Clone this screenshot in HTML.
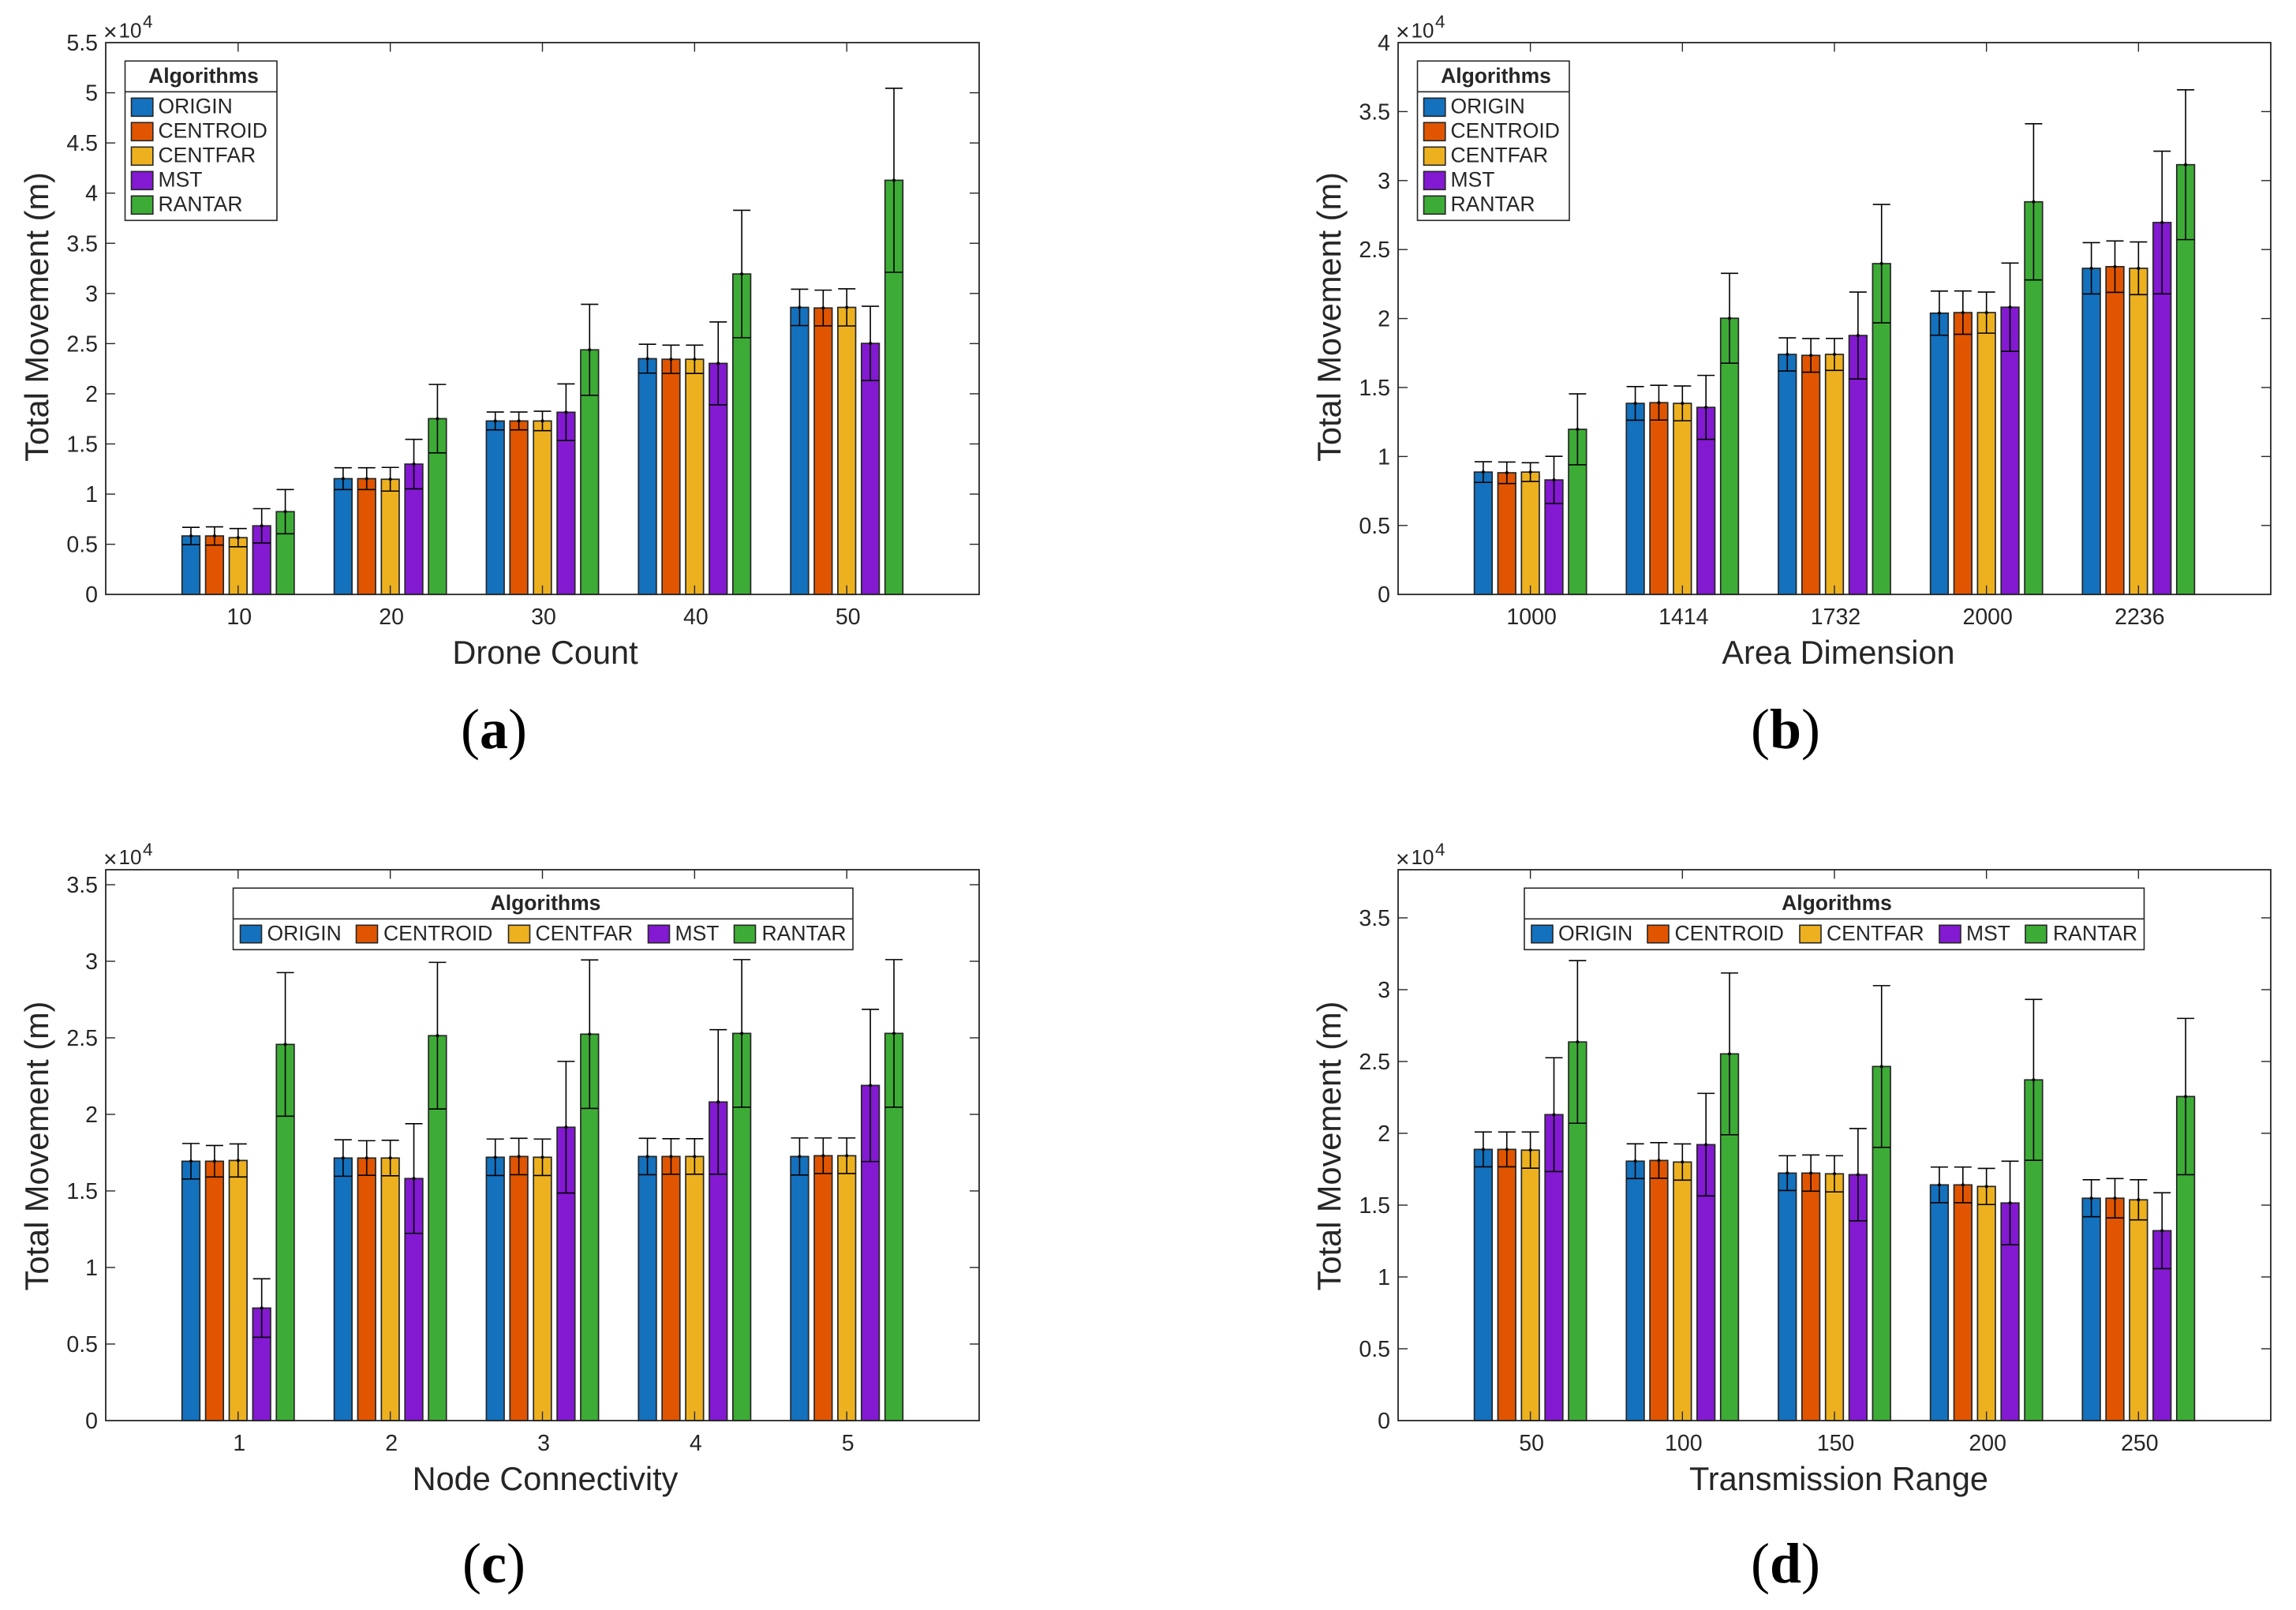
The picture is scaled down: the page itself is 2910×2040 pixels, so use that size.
<!DOCTYPE html>
<html lang="en">
<head>
<meta charset="utf-8">
<title>Total Movement charts</title>
<style>
html,body{margin:0;padding:0;background:#fff;}
svg{display:block;font-family:"Liberation Sans",sans-serif;}
.tick-label{font-size:28.5px;fill:#262626;}
.axis-title{font-size:41.5px;fill:#262626;}
.exp{fill:#262626;}
.leg-title{font-size:26.5px;font-weight:bold;fill:#262626;text-anchor:middle;}
.leg-text{font-size:26.5px;fill:#262626;}
.leg-box{fill:#fff;stroke:#262626;stroke-width:1.6;}
.leg-sep{stroke:#262626;stroke-width:1.6;}
.sw{stroke:#262626;stroke-width:1.6;}
.c0{fill:#1371BE;}.c1{fill:#E15500;}.c2{fill:#EDB120;}.c3{fill:#8319D1;}.c4{fill:#3DAC36;}
.sub{font-family:"Liberation Serif",serif;font-size:72px;fill:#000;text-anchor:middle;}
.sub .b{font-weight:bold;}
</style>
</head>
<body>
<svg xmlns="http://www.w3.org/2000/svg" width="2910" height="2040" viewBox="0 0 2910 2040">
  <rect width="2910" height="2040" fill="#fff"/>

  <!-- Panel A -->
  <g>
    <g id="marks-a"></g>
    <g><text class="exp" x="131" y="50.5" font-size="30">×</text><text class="exp" x="150.5" y="47.3" font-size="26">10</text><text class="exp" x="181" y="35" font-size="22.5">4</text></g>
    <text class="axis-title" x="691" y="841" text-anchor="middle">Drone Count</text>
    <text class="axis-title" transform="translate(61 401.5) rotate(-90)" text-anchor="middle">Total Movement (m)</text>
    <g transform="translate(158.5 77.3)">
      <rect class="leg-box" width="192.5" height="202"/>
      <line class="leg-sep" x1="0" x2="192.5" y1="39" y2="39"/>
      <text class="leg-title" x="99.5" y="27.7">Algorithms</text>
      <rect class="sw c0" x="8" y="47" width="27.3" height="23"/><text class="leg-text" x="42" y="66">ORIGIN</text>
      <rect class="sw c1" x="8" y="78" width="27.3" height="23"/><text class="leg-text" x="42" y="97">CENTROID</text>
      <rect class="sw c2" x="8" y="109" width="27.3" height="23"/><text class="leg-text" x="42" y="128">CENTFAR</text>
      <rect class="sw c3" x="8" y="140" width="27.3" height="23"/><text class="leg-text" x="42" y="159">MST</text>
      <rect class="sw c4" x="8" y="171" width="27.3" height="23"/><text class="leg-text" x="42" y="190">RANTAR</text>
    </g>
    <text class="sub" x="626" y="948">(<tspan class="b">a</tspan>)</text>
  </g>

  <!-- Panel B -->
  <g>
    <g id="marks-b"></g>
    <g><text class="exp" x="1769" y="50.5" font-size="30">×</text><text class="exp" x="1788.5" y="47.3" font-size="26">10</text><text class="exp" x="1819" y="35" font-size="22.5">4</text></g>
    <text class="axis-title" x="2330" y="841" text-anchor="middle">Area Dimension</text>
    <text class="axis-title" transform="translate(1699 401.5) rotate(-90)" text-anchor="middle">Total Movement (m)</text>
    <g transform="translate(1796.5 77.3)">
      <rect class="leg-box" width="192.5" height="202"/>
      <line class="leg-sep" x1="0" x2="192.5" y1="39" y2="39"/>
      <text class="leg-title" x="99.5" y="27.7">Algorithms</text>
      <rect class="sw c0" x="8" y="47" width="27.3" height="23"/><text class="leg-text" x="42" y="66">ORIGIN</text>
      <rect class="sw c1" x="8" y="78" width="27.3" height="23"/><text class="leg-text" x="42" y="97">CENTROID</text>
      <rect class="sw c2" x="8" y="109" width="27.3" height="23"/><text class="leg-text" x="42" y="128">CENTFAR</text>
      <rect class="sw c3" x="8" y="140" width="27.3" height="23"/><text class="leg-text" x="42" y="159">MST</text>
      <rect class="sw c4" x="8" y="171" width="27.3" height="23"/><text class="leg-text" x="42" y="190">RANTAR</text>
    </g>
    <text class="sub" x="2263" y="948">(<tspan class="b">b</tspan>)</text>
  </g>

  <!-- Panel C -->
  <g>
    <g id="marks-c"></g>
    <g><text class="exp" x="131" y="1098.5" font-size="30">×</text><text class="exp" x="150.5" y="1095" font-size="26">10</text><text class="exp" x="181" y="1084" font-size="22.5">4</text></g>
    <text class="axis-title" x="691" y="1888" text-anchor="middle">Node Connectivity</text>
    <text class="axis-title" transform="translate(61 1452) rotate(-90)" text-anchor="middle">Total Movement (m)</text>
    <g transform="translate(295.5 1125.3)">
      <rect class="leg-box" width="785.5" height="78"/>
      <line class="leg-sep" x1="0" x2="785.5" y1="39" y2="39"/>
      <text class="leg-title" x="396" y="27.7">Algorithms</text>
      <rect class="sw c0" x="9" y="47" width="27" height="22.4"/><text class="leg-text" x="43" y="66.4">ORIGIN</text>
      <rect class="sw c1" x="156" y="47" width="27" height="22.4"/><text class="leg-text" x="190.5" y="66.4">CENTROID</text>
      <rect class="sw c2" x="349" y="47" width="27" height="22.4"/><text class="leg-text" x="383" y="66.4">CENTFAR</text>
      <rect class="sw c3" x="526" y="47" width="27" height="22.4"/><text class="leg-text" x="560" y="66.4">MST</text>
      <rect class="sw c4" x="635" y="47" width="27" height="22.4"/><text class="leg-text" x="670" y="66.4">RANTAR</text>
    </g>
    <text class="sub" x="626" y="2005">(<tspan class="b">c</tspan>)</text>
  </g>

  <!-- Panel D -->
  <g>
    <g id="marks-d"></g>
    <g><text class="exp" x="1769" y="1098.5" font-size="30">×</text><text class="exp" x="1788.5" y="1095" font-size="26">10</text><text class="exp" x="1819" y="1084" font-size="22.5">4</text></g>
    <text class="axis-title" x="2330.5" y="1888" text-anchor="middle">Transmission Range</text>
    <text class="axis-title" transform="translate(1699 1452) rotate(-90)" text-anchor="middle">Total Movement (m)</text>
    <g transform="translate(1932 1125.3)">
      <rect class="leg-box" width="785.5" height="78"/>
      <line class="leg-sep" x1="0" x2="785.5" y1="39" y2="39"/>
      <text class="leg-title" x="396" y="27.7">Algorithms</text>
      <rect class="sw c0" x="9" y="47" width="27" height="22.4"/><text class="leg-text" x="43" y="66.4">ORIGIN</text>
      <rect class="sw c1" x="156" y="47" width="27" height="22.4"/><text class="leg-text" x="190.5" y="66.4">CENTROID</text>
      <rect class="sw c2" x="349" y="47" width="27" height="22.4"/><text class="leg-text" x="383" y="66.4">CENTFAR</text>
      <rect class="sw c3" x="526" y="47" width="27" height="22.4"/><text class="leg-text" x="560" y="66.4">MST</text>
      <rect class="sw c4" x="635" y="47" width="27" height="22.4"/><text class="leg-text" x="670" y="66.4">RANTAR</text>
    </g>
    <text class="sub" x="2263" y="2005">(<tspan class="b">d</tspan>)</text>
  </g>
</svg>

<script>
// Values are in units of 10^4 metres, as on the axes.
const seriesNames = ['origin', 'centroid', 'centfar', 'mst', 'rantar'];

// Panel A: Drone Count
const categoriesA = ['10', '20', '30', '40', '50'];
const yTicksA = [0, 0.5, 1, 1.5, 2, 2.5, 3, 3.5, 4, 4.5, 5, 5.5];
const meanOriginA = [0.583, 1.154, 1.729, 2.350, 2.861];
const meanCentroidA = [0.583, 1.154, 1.729, 2.344, 2.855];
const meanCentfarA = [0.566, 1.148, 1.729, 2.344, 2.861];
const meanMstA = [0.684, 1.299, 1.816, 2.303, 2.502];
const meanRantarA = [0.825, 1.752, 2.438, 3.194, 4.128];
const errOriginA = [0.086, 0.109, 0.089, 0.144, 0.181];
const errCentroidA = [0.091, 0.109, 0.089, 0.141, 0.178];
const errCentfarA = [0.091, 0.118, 0.097, 0.141, 0.185];
const errMstA = [0.171, 0.247, 0.282, 0.413, 0.370];
const errRantarA = [0.220, 0.341, 0.454, 0.635, 0.917];

// Panel B: Area Dimension
const categoriesB = ['1000', '1414', '1732', '2000', '2236'];
const yTicksB = [0, 0.5, 1, 1.5, 2, 2.5, 3, 3.5, 4];
const meanOriginB = [0.887, 1.385, 1.740, 2.039, 2.364];
const meanCentroidB = [0.882, 1.390, 1.733, 2.043, 2.376];
const meanCentfarB = [0.887, 1.385, 1.740, 2.043, 2.364];
const meanMstB = [0.830, 1.356, 1.877, 2.082, 2.696];
const meanRantarB = [1.197, 2.002, 2.398, 2.846, 3.115];
const errOriginB = [0.075, 0.122, 0.120, 0.160, 0.186];
const errCentroidB = [0.078, 0.126, 0.122, 0.157, 0.186];
const errCentfarB = [0.068, 0.126, 0.116, 0.149, 0.191];
const errMstB = [0.171, 0.232, 0.315, 0.320, 0.517];
const errRantarB = [0.257, 0.326, 0.429, 0.566, 0.543];

// Panel C: Node Connectivity
const categoriesC = ['1', '2', '3', '4', '5'];
const yTicksC = [0, 0.5, 1, 1.5, 2, 2.5, 3, 3.5];
const meanOriginC = [1.694, 1.715, 1.720, 1.725, 1.725];
const meanCentroidC = [1.694, 1.715, 1.725, 1.725, 1.730];
const meanCentfarC = [1.699, 1.715, 1.720, 1.725, 1.730];
const meanMstC = [0.735, 1.581, 1.916, 2.081, 2.189];
const meanRantarC = [2.457, 2.514, 2.524, 2.529, 2.529];
const errOriginC = [0.116, 0.119, 0.119, 0.119, 0.121];
const errCentroidC = [0.103, 0.113, 0.119, 0.116, 0.116];
const errCentfarC = [0.108, 0.116, 0.119, 0.116, 0.116];
const errMstC = [0.191, 0.358, 0.430, 0.472, 0.497];
const errRantarC = [0.469, 0.479, 0.485, 0.482, 0.482];

// Panel D: Transmission Range
const categoriesD = ['50', '100', '150', '200', '250'];
const yTicksD = [0, 0.5, 1, 1.5, 2, 2.5, 3, 3.5];
const meanOriginD = [1.888, 1.806, 1.723, 1.641, 1.548];
const meanCentroidD = [1.888, 1.811, 1.723, 1.641, 1.548];
const meanCentfarD = [1.883, 1.800, 1.718, 1.630, 1.537];
const meanMstD = [2.130, 1.921, 1.712, 1.515, 1.322];
const meanRantarD = [2.636, 2.553, 2.465, 2.372, 2.256];
const errOriginD = [0.121, 0.121, 0.121, 0.124, 0.129];
const errCentroidD = [0.121, 0.124, 0.126, 0.124, 0.137];
const errCentfarD = [0.126, 0.126, 0.126, 0.126, 0.140];
const errMstD = [0.396, 0.357, 0.321, 0.291, 0.264];
const errRantarD = [0.566, 0.563, 0.563, 0.560, 0.544];

const SVGNS = 'http://www.w3.org/2000/svg';
const INK = '#262626';
const barColors = ['#1371BE', '#E15500', '#EDB120', '#8319D1', '#3DAC36'];

function make(tag, attrs, parent) {
  const node = document.createElementNS(SVGNS, tag);
  for (const key in attrs) node.setAttribute(key, attrs[key]);
  parent.appendChild(node);
  return node;
}

function drawPanel(p) {
  const root = document.getElementById(p.target);
  const xMin = 0.13, xMax = 5.87;
  const xScale = v => p.left + (v - xMin) / (xMax - xMin) * (p.right - p.left);
  const yScale = v => p.bottom - v / p.yMax * (p.bottom - p.top);
  const barStep = 0.155, barWidth = 22.6;

  // bars
  p.means.forEach((series, s) => {
    series.forEach((value, g) => {
      const cx = xScale(g + 1 + (s - 2) * barStep);
      const bar = make('rect', {
        x: cx - barWidth / 2, y: yScale(value), width: barWidth, height: yScale(0) - yScale(value),
        fill: barColors[s], stroke: INK, 'stroke-width': 1.7
      }, root);
      
      
    });
  });

  // axis box
  const box = make('rect', {
    x: p.left, y: p.top, width: p.right - p.left, height: p.bottom - p.top,
    fill: 'none', stroke: INK, 'stroke-width': 1.8
  }, root);
  
  

  // x ticks
  p.categories.forEach((label, g) => {
    const x = xScale(g + 1);
    const bottomTick = make('line', { x1: x, x2: x, y1: p.bottom, y2: p.bottom - 11.5, stroke: INK, 'stroke-width': 1.4 }, root);
    
    
    const topTick = make('line', { x1: x, x2: x, y1: p.top, y2: p.top + 11.5, stroke: INK, 'stroke-width': 1.4 }, root);
    
    
    const text = make('text', { x: x + 1.5, y: p.bottom + 38, class: 'tick-label', 'text-anchor': 'middle' }, root);
    text.textContent = label;
    
    
  });

  // y ticks
  p.yTicks.forEach(v => {
    const y = yScale(v);
    if (v > 0 && y > p.top + 1) {
      const leftTick = make('line', { x1: p.left, x2: p.left + 12, y1: y, y2: y, stroke: INK, 'stroke-width': 1.4 }, root);
      
      
      const rightTick = make('line', { x1: p.right, x2: p.right - 12, y1: y, y2: y, stroke: INK, 'stroke-width': 1.4 }, root);
      
      
    }
    const text = make('text', { x: p.left - 10, y: y + 10, class: 'tick-label', 'text-anchor': 'end' }, root);
    text.textContent = String(v);
    
    
  });

  // error bars
  p.means.forEach((series, s) => {
    series.forEach((value, g) => {
      const cx = xScale(g + 1 + (s - 2) * barStep);
      const err = p.errs[s][g];
      const yHi = yScale(value + err), yLo = yScale(value - err);
      const stem = make('line', { x1: cx, x2: cx, y1: yHi, y2: yLo, stroke: '#000', 'stroke-width': 1.6 }, root);
      
      
      const capHi = make('line', { x1: cx - 11, x2: cx + 11, y1: yHi, y2: yHi, stroke: '#000', 'stroke-width': 1.6 }, root);
      
      
      const capLo = make('line', { x1: cx - 11, x2: cx + 11, y1: yLo, y2: yLo, stroke: '#000', 'stroke-width': 1.6 }, root);
      
      
      const dot = make('circle', { cx: cx, cy: yScale(value), r: 2, fill: '#000' }, root);
      
      
    });
  });
}

drawPanel({
  target: 'marks-a', left: 134, right: 1241, top: 54, bottom: 753.2, yMax: 5.5,
  categories: categoriesA, yTicks: yTicksA,
  means: [meanOriginA, meanCentroidA, meanCentfarA, meanMstA, meanRantarA],
  errs: [errOriginA, errCentroidA, errCentfarA, errMstA, errRantarA]
});
drawPanel({
  target: 'marks-b', left: 1772, right: 2878, top: 54, bottom: 753.2, yMax: 4,
  categories: categoriesB, yTicks: yTicksB,
  means: [meanOriginB, meanCentroidB, meanCentfarB, meanMstB, meanRantarB],
  errs: [errOriginB, errCentroidB, errCentfarB, errMstB, errRantarB]
});
drawPanel({
  target: 'marks-c', left: 134, right: 1241, top: 1102, bottom: 1800, yMax: 3.598,
  categories: categoriesC, yTicks: yTicksC,
  means: [meanOriginC, meanCentroidC, meanCentfarC, meanMstC, meanRantarC],
  errs: [errOriginC, errCentroidC, errCentfarC, errMstC, errRantarC]
});
drawPanel({
  target: 'marks-d', left: 1772, right: 2878, top: 1102, bottom: 1800, yMax: 3.835,
  categories: categoriesD, yTicks: yTicksD,
  means: [meanOriginD, meanCentroidD, meanCentfarD, meanMstD, meanRantarD],
  errs: [errOriginD, errCentroidD, errCentfarD, errMstD, errRantarD]
});
</script>
</body>
</html>
